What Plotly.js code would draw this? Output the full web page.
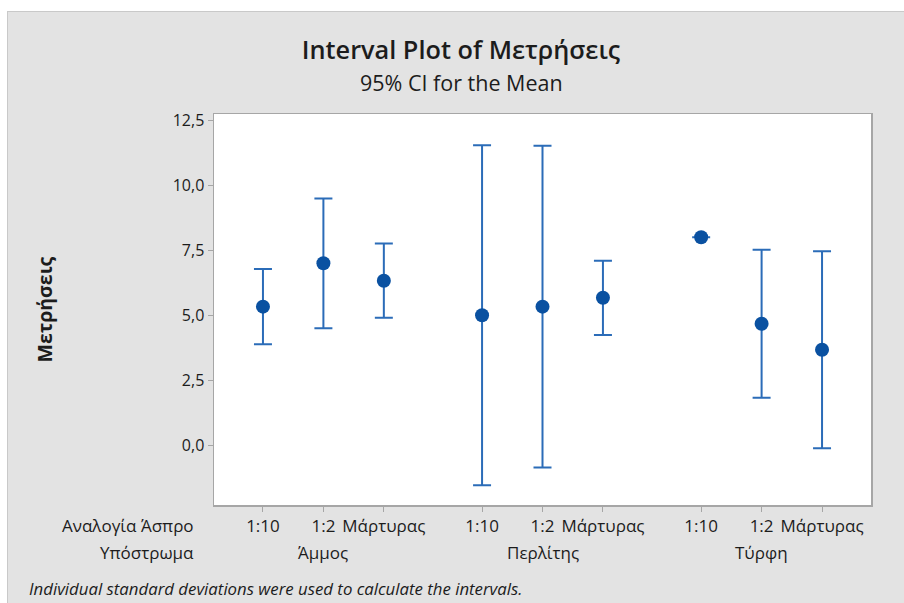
<!DOCTYPE html>
<html>
<head>
<meta charset="utf-8">
<script src="https://cdn.plot.ly/plotly-3.0.1.min.js"></script>
<style>
  html, body { margin: 0; padding: 0; background: #ffffff; width: 904px; height: 603px; overflow: hidden; }
  #frame { position: absolute; left: 7px; top: 11px; width: 897px; height: 592px;
           border-left: 1px solid #c9c9c9; border-top: 1px solid #c9c9c9; background: #e3e3e3; }
  #chart { width: 896px; height: 591px; }
</style>
</head>
<body>
<div id="frame"><div id="chart"></div></div>
<script>
// Substrate groups (outer factor) and white-ratio levels (inner factor)
const substrates = ['Άμμος', 'Περλίτης', 'Τύρφη'];
const ratios = ['1:10', '1:2', 'Μάρτυρας'];

// Means and 95% confidence limits, ordered substrate by substrate, ratio by ratio
const means = [5.33, 7.0, 6.33, 5.0, 5.33, 5.67, 8.0, 4.67, 3.67];
const upper = [6.78, 9.5, 7.76, 11.55, 11.53, 7.1, 8.0, 7.52, 7.46];
const lower = [3.88, 4.5, 4.9, -1.55, -0.87, 4.24, 8.0, 1.82, -0.12];

const yTicks = [0, 2.5, 5, 7.5, 10, 12.5];

// Place the three ratio levels side by side, with a wider gap between substrate groups
const groupStep = ratios.length + 0.625;
const xs = [], tickText = [];
substrates.forEach((s, g) => {
  ratios.forEach((r, i) => { xs.push(g * groupStep + i); tickText.push(r); });
});
const groupCentres = substrates.map((s, g) => g * groupStep + (ratios.length - 1) / 2);

const font = 'Open Sans, Noto Sans, DejaVu Sans, sans-serif';
const ink = '#1c1c1c';
const labelSize = 17;

const trace = {
  type: 'scatter',
  mode: 'markers',
  x: xs,
  y: means,
  marker: { color: '#0a51a1', size: 14, symbol: 'circle' },
  error_y: {
    type: 'data',
    symmetric: false,
    array: upper.map((u, k) => u - means[k]),
    arrayminus: lower.map((l, k) => means[k] - l),
    color: '#2b6cb8',
    thickness: 2,
    width: 9
  },
  hoverinfo: 'x+y'
};

const annotations = [
  { text: '95% CI for the Mean', xref: 'paper', yref: 'paper', x: 0, y: 1, xshift: 247, yshift: 32,
    xanchor: 'center', yanchor: 'middle', showarrow: false, font: { family: font, size: 21.5, color: ink } },
  { text: '<b>Μετρήσεις</b>', xref: 'paper', yref: 'paper', x: 0, y: 0.5, xshift: -170,
    xanchor: 'center', yanchor: 'middle', textangle: -90, showarrow: false,
    font: { family: font, size: 19.5, color: ink } },
  { text: 'Αναλογία Άσπρο', xref: 'paper', yref: 'paper', x: 0, y: 0, xshift: -18, yshift: -20,
    xanchor: 'right', yanchor: 'middle', showarrow: false, font: { family: font, size: labelSize, color: ink } },
  { text: 'Υπόστρωμα', xref: 'paper', yref: 'paper', x: 0, y: 0, xshift: -18, yshift: -47,
    xanchor: 'right', yanchor: 'middle', showarrow: false, font: { family: font, size: labelSize, color: ink } },
  { text: '<i>Individual standard deviations were used to calculate the intervals.</i>',
    xref: 'paper', yref: 'paper', x: 0, y: 0, xshift: -187, yshift: -83,
    xanchor: 'left', yanchor: 'middle', showarrow: false, font: { family: font, size: 16.8, color: ink } }
];
substrates.forEach((s, g) => {
  annotations.push({ text: s, xref: 'x', yref: 'paper', x: groupCentres[g], y: 0, yshift: -47,
    xanchor: 'center', yanchor: 'middle', showarrow: false, font: { family: font, size: labelSize, color: ink } });
});

const layout = {
  width: 896,
  height: 591,
  paper_bgcolor: '#e3e3e3',
  plot_bgcolor: '#ffffff',
  margin: { l: 206, r: 33, t: 102, b: 98 },
  separators: ',.',
  showlegend: false,
  title: {
    text: 'Interval Plot of Μετρήσεις',
    xref: 'container', yref: 'container', x: 0.5056, y: 1 - 38 / 591,
    xanchor: 'center', yanchor: 'middle',
    font: { family: font, size: 25.3, color: ink, weight: 600 }
  },
  xaxis: {
    range: [-0.81, 10.06],
    tickmode: 'array',
    tickvals: xs,
    ticktext: tickText,
    ticks: 'outside', ticklen: 5, tickcolor: '#a6a6a6', tickwidth: 1,
    showgrid: false, zeroline: false,
    showline: true, linecolor: '#a6a6a6', linewidth: 1.5, mirror: true,
    tickfont: { family: font, size: labelSize, color: ink }
  },
  yaxis: {
    range: [-2.31, 12.75],
    tickmode: 'array',
    tickvals: yTicks,
    tickformat: '.1f',
    ticks: 'outside', ticklen: 5, tickcolor: '#a6a6a6', tickwidth: 1,
    showgrid: false, zeroline: false,
    showline: true, linecolor: '#a6a6a6', linewidth: 1.5, mirror: true,
    tickfont: { family: font, size: 16, color: ink }
  },
  annotations: annotations
};

Plotly.newPlot('chart', [trace], layout, { displayModeBar: false, staticPlot: true });
</script>
</body>
</html>
